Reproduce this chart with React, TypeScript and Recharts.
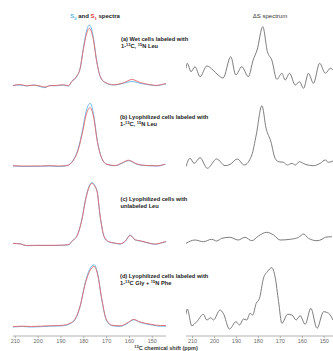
import React from "react";
import { LineChart, Line, XAxis, YAxis } from "recharts";

// ---- S0 / S1 spectra (left column), intensity above baseline ----
const leftPpmA = [211, 208, 205, 202, 199, 197, 195, 192, 189, 186.7, 185.3, 183.1, 181.6, 180.2, 178.7, 177.5, 176, 174.3, 172.8, 170.6, 167, 162.6, 158.9, 155.3, 150.9, 147.9, 145.1, 144];
const s0A = [0.3, 1, 0, 1, -0.7, -1.7, 0.5, 0.2, 1, 0, 4.3, 9.3, 17.7, 37.7, 56, 61, 51, 24.3, 9.3, 3.3, 1, 2.7, 4.5, 2.7, 1, 0.3, 1.7, 2];
const s1A = [0.5, 1.5, 0.3, 0.8, 0, -1, 0.2, 0.6, 1.2, 0.3, 4.6, 9.8, 17.5, 36.5, 53, 57.7, 48.5, 24, 9.6, 3.6, 1.3, 3.2, 6.5, 3.5, 1.3, 0.6, 1.9, 2.2];

const leftPpmB = [211, 207, 203, 199, 195, 191, 188, 186.7, 184.6, 182.4, 180.4, 179, 177.2, 175.8, 174, 172.1, 169.9, 166.3, 163.3, 160.4, 156.7, 152.4, 148, 144.3];
const s0B = [0, -0.5, -0.5, -0.3, 0, -0.5, 0, 1, 6, 17.7, 37.7, 54.3, 62.7, 52.7, 24.3, 7.7, 1.7, 0.3, 2.7, 5.3, 1.7, 0.3, 0, 1.7];
const s1B = [0.3, 0, 0, 0, 0.3, 0, 0.3, 1, 5.5, 16.5, 35.5, 51, 58.3, 50, 23.5, 7.5, 1.7, 0.5, 3, 5.8, 2, 0.5, 0.2, 1.9];

const leftPpmC = [211, 208, 205, 201, 197, 193, 189, 186.5, 185.3, 182.8, 180.9, 179, 176.5, 174.3, 172.8, 171.1, 169.2, 166.3, 164.1, 161.8, 159.7, 157.5, 155.3, 152.4, 148.7, 146.5, 144];
const s0C = [1.7, 1.3, -0.7, -0.5, -0.5, -0.5, -0.3, 0.3, 3.3, 10, 25, 48.3, 62.3, 55, 28.3, 8.3, 3.3, 1.7, 1, 4, 10, 5, 4, 2.3, 0.7, 1.7, 3.3];
const s1C = [1.5, 1.1, -0.5, -0.3, -0.3, -0.3, -0.1, 0.5, 3.5, 10, 24.5, 47.5, 61.5, 54.5, 28, 8.5, 3.5, 1.9, 1.2, 4, 9.5, 5.2, 4.2, 2.5, 0.9, 1.9, 3.5];

const leftPpmD = [211, 207, 203, 199, 195, 191, 188.9, 186, 183.8, 181.6, 179.4, 177.5, 175.5, 174, 172.1, 170.2, 167.7, 164.1, 161.1, 158.2, 155.3, 150.9, 146.5, 144];
const s0D = [0, 0.5, 0, 0.3, 0.8, 1, 1.3, 3.3, 7.3, 20.6, 44, 57.3, 62.3, 54, 27.3, 7.3, 1.3, 0.6, 3.3, 7.3, 4.6, 2.3, 0.8, 0.8];
const s1D = [0.5, 0.8, 0.5, 0.8, 1.2, 1.5, 1.8, 3.8, 8, 21, 43, 55.5, 60.6, 53, 27.5, 8, 1.8, 1.2, 3.8, 7.5, 5, 2.8, 1.5, 1.5];

// ---- ΔS difference spectra (right column) ----
const rightPpmA = [213, 212.4, 210.7, 208.9, 206.6, 203.5, 200.7, 198.4, 196.1, 192.6, 190.3, 187.6, 184.6, 182.4, 180.6, 178, 175.9, 173.9, 171.6, 169.3, 167.8, 165.8, 163.2, 161.3, 159.4, 157.2, 154.9, 152.1, 149.5, 147.2, 146];
const dsA = [11.7, 16.7, 8.3, 13.3, 3.3, 14, 10, 5, 2, 23.3, 5, 13.3, 3.3, 20, 30, 53.3, 28.3, 20, 0.7, 6.7, 0, 6.7, -5, -1.7, -8.3, 6.7, -3.3, 16.7, 6.7, 11.7, 10];

const rightPpmB = [213, 211.2, 209.3, 206.6, 203.3, 199, 195.2, 192.9, 189.6, 186.5, 183, 181, 178.4, 176.5, 174.3, 172.4, 170.8, 168.6, 166.8, 164.7, 163.2, 161.3, 158.7, 154.9, 151.8, 149.5, 148, 146];
const dsB = [3.3, 11.7, 6.7, 12.3, 1.7, 11, 4.3, 5.7, 11, 5, 15, 35, 64.3, 41.7, 28.3, 11.7, 8.3, 7.7, 5, 6.7, 5, 8.3, 5.7, 4.3, 6.7, 10, 7.7, 9];

const rightPpmC = [213, 208.9, 205.1, 201.3, 199, 196.7, 193, 189.2, 186.1, 183, 180, 176.2, 173.1, 170.1, 165.5, 161.7, 159.4, 157.2, 153.3, 151, 149.5, 146.5];
const dsC = [1.7, 5, 3.3, 5.7, 4, 6.7, 7.7, 5, 7.7, 4.3, 9, 12.7, 10, 5, 5.7, 7.7, 11, 6.7, 4.3, 5.7, 7.7, 8.3];

const rightPpmD = [213, 212.4, 210.4, 208.1, 205.1, 203.5, 201.7, 200.5, 197.5, 196, 193.2, 190.2, 188.6, 186.8, 185.3, 183.8, 182.6, 181, 179.5, 177.7, 175.9, 173.9, 172.4, 170.8, 169.3, 166.7, 164.7, 162.8, 161, 158.7, 156.1, 153.3, 150.3, 148, 146];
const dsD = [15.7, 21, 4.3, 8.3, 15.7, 10, 12.3, 10, 20, 16.7, 1, 8.3, 5, 11, 10, 16.7, 15, 26.7, 31.7, 51.7, 58.3, 62.3, 53.3, 28.3, 6.7, 15.7, 15, 10, 14.3, 5.7, 21.7, 1.7, 18.3, 16.7, 10];

const shiftTicks = [210, 200, 190, 180, 170, 160, 150];

const S0_COLOR = "#5bb6ea";
const S1_COLOR = "#e4676c";
const DS_COLOR = "#6e6e6e";
const FONT = "'Liberation Sans', Arial, Helvetica, sans-serif";

type Row = { ppm: number; s0?: number; s1?: number; ds?: number };

const pairRows = (ppm: number[], s0: number[], s1: number[]): Row[] =>
  ppm.map((p, i) => ({ ppm: p, s0: s0[i], s1: s1[i] }));
const diffRows = (ppm: number[], ds: number[]): Row[] =>
  ppm.map((p, i) => ({ ppm: p, ds: ds[i] }));

type PanelProps = {
  rows: Row[];
  left: number;
  top: number;
  width: number;
  plotHeight: number;
  yDomain: [number, number];
  xDomain: [number, number];
  axis?: boolean;
  keys: { key: string; color: string }[];
};

// side padding so edge tick labels are not clipped by the chart's own svg
const PAD = 8;

function Panel({ rows, left, top, width, plotHeight, yDomain, xDomain, axis, keys }: PanelProps) {
  const axisH = axis ? 15 : 0;
  return (
    <div style={{ position: "absolute", left: left - PAD, top }}>
      <LineChart
        width={width + 2 * PAD}
        height={plotHeight + axisH}
        data={rows}
        margin={{ top: 0, right: PAD, bottom: 0, left: PAD }}
      >
        <XAxis
          type="number"
          dataKey="ppm"
          domain={xDomain}
          reversed
          allowDataOverflow
          hide={!axis}
          ticks={shiftTicks}
          interval={0}
          height={axisH}
          tickSize={2}
          tickMargin={1}
          axisLine={{ stroke: "#a0a0a0", strokeWidth: 0.8 }}
          tickLine={{ stroke: "#a0a0a0", strokeWidth: 0.8 }}
          tick={{ fontSize: 5.5, fill: "#6a6a6a", fontFamily: FONT }}
        />
        <YAxis hide domain={yDomain} allowDataOverflow />
        {keys.map((k) => (
          <Line
            key={k.key}
            dataKey={k.key}
            type="monotone"
            stroke={k.color}
            strokeWidth={0.9}
            dot={false}
            isAnimationActive={false}
          />
        ))}
      </LineChart>
    </div>
  );
}

const leftDomain: [number, number] = [144, 211];
const rightDomain: [number, number] = [146, 213];
const pairKeys = [
  { key: "s0", color: S0_COLOR },
  { key: "s1", color: S1_COLOR },
];
const diffKeys = [{ key: "ds", color: DS_COLOR }];

function Caption({ x, y, first, iso }: { x: number; y: number; first: string; iso: React.ReactNode }) {
  return (
    <g fontFamily={FONT} fontSize={5.7} fontWeight="bold" fill="#222">
      <text x={x} y={y}>{first}</text>
      <text x={x} y={y + 6.5}>{iso}</text>
    </g>
  );
}

const sup = (s: string) => (
  <tspan fontSize={4} dy={-2}>{s}</tspan>
);
const back = (s: string) => <tspan dy={2}>{s}</tspan>;

export default function App() {
  return (
    <div
      style={{
        position: "fixed",
        left: 0,
        top: 0,
        width: 333,
        height: 351,
        overflow: "hidden",
        background: "#fff",
      }}
    >
      <Panel rows={pairRows(leftPpmA, s0A, s1A)} left={13} top={16} width={153} plotHeight={80} yDomain={[-10, 70]} xDomain={leftDomain} keys={pairKeys} />
      <Panel rows={pairRows(leftPpmB, s0B, s1B)} left={13} top={96} width={153} plotHeight={80} yDomain={[-10, 70]} xDomain={leftDomain} keys={pairKeys} />
      <Panel rows={pairRows(leftPpmC, s0C, s1C)} left={13} top={175} width={153} plotHeight={80} yDomain={[-10, 70]} xDomain={leftDomain} keys={pairKeys} />
      <Panel rows={pairRows(leftPpmD, s0D, s1D)} left={13} top={257} width={153} plotHeight={79} yDomain={[-9, 70]} xDomain={leftDomain} keys={pairKeys} axis />

      <Panel rows={diffRows(rightPpmA, dsA)} left={186} top={10} width={147} plotHeight={80} yDomain={[-10, 70]} xDomain={rightDomain} keys={diffKeys} />
      <Panel rows={diffRows(rightPpmB, dsB)} left={186} top={100} width={147} plotHeight={80} yDomain={[-10, 70]} xDomain={rightDomain} keys={diffKeys} />
      <Panel rows={diffRows(rightPpmC, dsC)} left={186} top={175} width={147} plotHeight={80} yDomain={[-10, 70]} xDomain={rightDomain} keys={diffKeys} />
      <Panel rows={diffRows(rightPpmD, dsD)} left={186} top={260} width={147} plotHeight={76} yDomain={[-6, 70]} xDomain={rightDomain} keys={diffKeys} axis />

      <svg
        width={333}
        height={351}
        style={{ position: "absolute", left: 0, top: 0, pointerEvents: "none" }}
      >
        <text x={95} y={18} textAnchor="middle" fontFamily={FONT} fontSize={6} fontWeight="bold" fill="#222">
          <tspan fill={S0_COLOR}>S</tspan>
          <tspan fill={S0_COLOR} fontSize={4.2} dy={1.5}>0</tspan>
          <tspan dy={-1.5}> and </tspan>
          <tspan fill="#e03a3a">S</tspan>
          <tspan fill="#e03a3a" fontSize={4.2} dy={1.5}>1</tspan>
          <tspan dy={-1.5}> spectra</tspan>
        </text>
        <text x={270} y={18} textAnchor="middle" fontFamily={FONT} fontSize={6} fill="#333">
          ΔS spectrum
        </text>

        <Caption x={121} y={41} first="(a) Wet cells labeled with"
          iso={<>1-{sup("13")}{back("C, ")}{sup("15")}{back("N Leu")}</>} />
        <Caption x={120} y={119} first="(b) Lyophilized cells labeled with"
          iso={<>1-{sup("13")}{back("C, ")}{sup("15")}{back("N Leu")}</>} />
        <Caption x={120.5} y={201} first="(c) Lyophilized cells with"
          iso={<> unlabeled Leu</>} />
        <Caption x={120} y={278} first="(d) Lyophilized cells labeled with"
          iso={<>1-{sup("13")}{back("C Gly + ")}{sup("15")}{back("N Phe")}</>} />

        <text x={166} y={349.5} textAnchor="middle" fontFamily={FONT} fontSize={5.5} fontWeight="bold" fill="#333">
          <tspan fontSize={4} dy={-2}>13</tspan>
          <tspan dy={2}>C chemical shift (ppm)</tspan>
        </text>
      </svg>
    </div>
  );
}
